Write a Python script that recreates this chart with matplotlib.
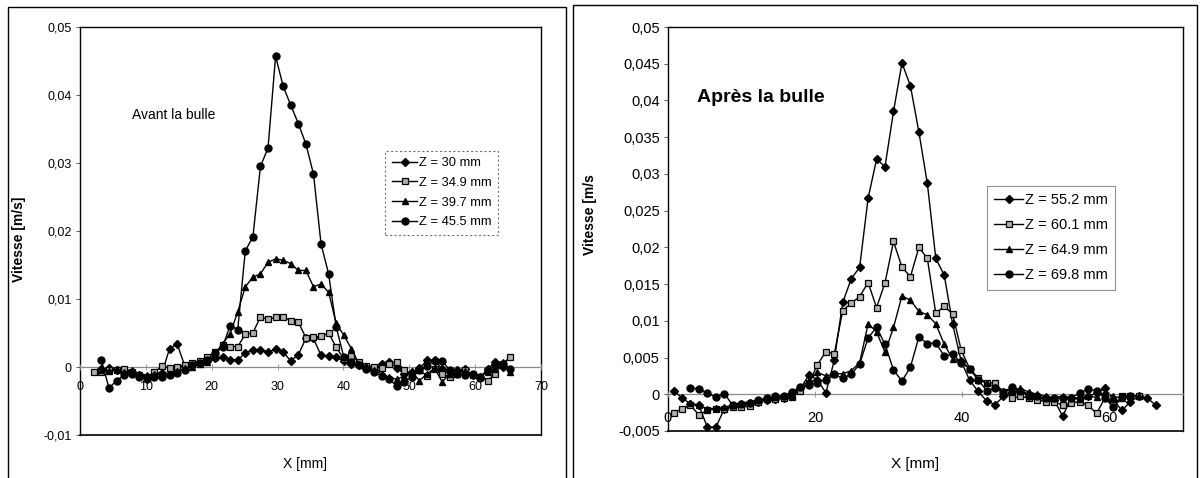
import matplotlib
matplotlib.use('Agg')
import matplotlib.pyplot as plt
from matplotlib.patches import Rectangle

plt.rcParams['font.family'] = ['Liberation Sans', 'DejaVu Sans']

# ---------------- data: left panel (avant la bulle) ----------------
x_left = [2.1, 3.25, 4.4, 5.55, 6.7, 7.85, 9.0, 10.15, 11.3, 12.45, 13.6, 14.75,
          15.9, 17.05, 18.2, 19.35, 20.5, 21.65, 22.8, 23.95, 25.1, 26.25, 27.4,
          28.55, 29.7, 30.85, 32.0, 33.15, 34.3, 35.45, 36.6, 37.75, 38.9, 40.05,
          41.2, 42.35, 43.5, 44.65, 45.8, 46.95, 48.1, 49.25, 50.4, 51.55, 52.7,
          53.85, 55.0, 56.15, 57.3, 58.45, 59.6, 60.75, 61.9, 63.05, 64.2, 65.35]
# values in 1e-3 m/s
left_z30 = [-0.3, -0.2, -0.5, -0.4, -0.8, -1.2, -1.5, -1.3, -0.9, 2.7, 3.4, 0.2, 0.4,
            0.7, 0.9, 1.3, 1.5, 1.1, 1.0, 2.1, 2.5, 2.5, 2.2, 2.6, 2.2, 0.9, 1.8, 4.2,
            4.2, 1.7, 1.6, 1.4, 0.9, 0.5, 0.3, -0.2, -0.5, 0.5, 0.8, -0.2, -1.0, -0.8,
            -0.2, 1.0, 1.0, -0.3, -0.8, -0.5, -0.3, -1.2, -1.5, -0.3, 0.8, 0.0]
left_z349 = [-0.8, -0.7, -0.5, -0.4, -0.3, -0.8, -1.2, -1.5, -0.8, 0.2, -0.2, 0.0, 0.3,
             0.6, 0.9, 1.5, 2.2, 3.2, 3.0, 3.0, 4.8, 5.0, 7.4, 7.0, 7.3, 7.4, 6.8, 6.6,
             4.3, 4.4, 4.5, 5.0, 2.9, 1.2, 1.6, 0.8, 0.2, 0.0, -0.2, 0.5, 0.8, -0.5,
             -1.0, -0.5, -1.3, -0.3, -1.0, -1.5, -1.0, -0.5, -1.2, -1.5, -2.0, -1.0,
             0.5, 1.5]
left_z397 = [-0.5, -0.6, -0.3, -0.8, -0.5, -1.0, -1.2, -1.0, -0.8, -1.0, -0.6, -0.2,
             0.0, 0.4, 0.8, 1.5, 3.4, 4.9, 8.1, 11.8, 13.2, 13.7, 15.4, 15.9, 15.7,
             15.2, 14.2, 14.2, 11.8, 12.2, 11.0, 6.4, 4.7, 2.7, 0.5, 0.1, -0.5, -1.0,
             -1.5, -1.8, -1.3, -0.8, -2.0, -1.0, -0.2, -2.2, -1.0, -0.8, -0.6, -1.0,
             -1.3, -0.8, -0.3, 0.8, -0.8]
left_z455 = [1.0, -3.1, -2.0, -1.2, -1.0, -1.4, -1.8, -1.5, -1.4, -1.2, -0.9, -0.4,
             0.3, 0.6, 1.0, 2.0, 3.0, 6.1, 5.5, 17.1, 19.1, 29.5, 32.2, 45.7, 41.3,
             38.5, 35.8, 32.8, 28.4, 18.1, 13.7, 5.9, 1.5, 0.8, 0.3, -0.3, -0.8, -1.3,
             -1.8, -2.8, -2.2, -1.5, -0.5, 0.2, 0.9, 0.9, -0.5, -1.0, -1.2, -1.0, -1.6,
             -0.5, 0.3, 0.5, -0.3]
left_series = [("Z = 30 mm", left_z30, 1), ("Z = 34.9 mm", left_z349, 0),
               ("Z = 39.7 mm", left_z397, 1), ("Z = 45.5 mm", left_z455, 1)]
left_yticks = [-0.01, 0.0, 0.01, 0.02, 0.03, 0.04, 0.05]
left_ylabels = ["-0,01", "0", "0,01", "0,02", "0,03", "0,04", "0,05"]
left_xticks = [0, 10, 20, 30, 40, 50, 60, 70]

# ---------------- data: right panel (après la bulle) ----------------
x_right = [0.75, 1.9, 3.05, 4.2, 5.35, 6.5, 7.65, 8.8, 9.95, 11.1, 12.25, 13.4,
           14.55, 15.7, 16.85, 18.0, 19.15, 20.3, 21.45, 22.6, 23.75, 24.9, 26.05,
           27.2, 28.35, 29.5, 30.65, 31.8, 32.95, 34.1, 35.25, 36.4, 37.55, 38.7,
           39.85, 41.0, 42.15, 43.3, 44.45, 45.6, 46.75, 47.9, 49.05, 50.2, 51.35,
           52.5, 53.65, 54.8, 55.95, 57.1, 58.25, 59.4, 60.55, 61.7, 62.85, 64.0,
           65.15, 66.3]
right_z552 = [0.5, -0.5, -1.3, -1.5, -4.5, -4.5, -2.0, -1.6, -1.5, -1.3, -1.0, -0.8,
              -0.6, -0.5, 0.2, 0.8, 2.6, 2.0, 0.2, 4.6, 12.5, 15.7, 17.3, 26.7, 32.0,
              31.0, 38.5, 45.1, 42.0, 35.7, 28.7, 18.5, 16.2, 9.5, 4.5, 1.9, 0.4,
              -0.9, -1.4, -0.3, 0.3, 0.5, 0.0, -0.5, -0.6, -0.8, -3.0, -0.5, -0.5,
              -0.3, 0.2, 0.8, -0.8, -2.2, -1.0, -0.3, -0.5, -1.5]
right_z601 = [-2.5, -2.0, -1.5, -2.8, -2.2, -2.0, -2.0, -1.8, -1.8, -1.6, -1.0, -0.7,
              -0.6, -0.5, -0.4, 0.5, 1.5, 4.0, 5.8, 5.5, 11.4, 12.4, 13.3, 15.2, 11.8,
              15.2, 20.8, 17.3, 16.0, 20.0, 18.5, 11.0, 12.0, 10.9, 6.0, 3.5, 2.2,
              1.6, 1.5, 0.3, -0.5, -0.3, -0.5, -0.8, -1.0, -1.0, -1.5, -1.2, -1.0,
              -1.5, -2.6, -0.5, -1.5, -0.3, -0.3, -0.3]
right_z649 = [-1.2, -1.5, -2.0, -1.9, -1.8, -1.4, -1.2, -1.0, -0.8, -0.6, -0.4, -0.3,
              -0.2, 1.0, 1.8, 3.0, 2.5, 2.8, 2.8, 3.2, 4.3, 9.6, 8.5, 5.7, 9.1, 13.4,
              12.8, 11.3, 10.8, 9.6, 6.8, 4.8, 4.5, 3.5, 2.0, 1.5, 1.0, 0.5, 0.5, 0.8,
              0.3, 0.0, -0.3, -0.5, -0.2, -0.5, -0.6, -0.3, -0.4, 0.3, -0.3, -0.5,
              -0.3, -0.2]
right_z698 = [0.9, 0.7, 0.2, -0.4, 0.1, -1.5, -1.3, -1.2, -0.8, -0.5, -0.3, -0.2, 0.3,
              1.0, 1.3, 1.6, 2.0, 2.7, 2.2, 2.7, 4.1, 7.7, 9.1, 6.8, 3.3, 1.8, 3.7,
              7.8, 6.9, 7.0, 5.2, 5.5, 4.3, 3.5, 2.0, 0.5, 0.8, 0.3, 1.0, 0.5, -0.3,
              -0.3, -0.5, -0.5, -0.5, -0.5, 0.2, 0.7, 0.5, -0.5, -1.8, -0.4, -0.2]
right_series = [("Z = 55.2 mm", right_z552, 0), ("Z = 60.1 mm", right_z601, 0),
                ("Z = 64.9 mm", right_z649, 2), ("Z = 69.8 mm", right_z698, 2)]
right_yticks = [-0.005, 0.0, 0.005, 0.01, 0.015, 0.02, 0.025, 0.03, 0.035, 0.04,
                0.045, 0.05]
right_ylabels = ["-0,005", "0", "0,005", "0,01", "0,015", "0,02", "0,025", "0,03",
                 "0,035", "0,04", "0,045", "0,05"]
right_xticks = [0, 20, 40, 60]

# ---------------- styles ----------------
styles = [dict(marker='D', ms=3.6, mfc='black', mec='black'),
          dict(marker='s', ms=4.6, mfc='#b0b0b0', mec='black', mew=0.9),
          dict(marker='^', ms=5.0, mfc='black', mec='black'),
          dict(marker='o', ms=5.0, mfc='black', mec='black')]

W, H = 1201, 478
fig = plt.figure(figsize=(W / 100, H / 100), dpi=100)


def fax(x0, y0, x1, y1):
    return fig.add_axes([x0 / W, 1 - y1 / H, (x1 - x0) / W, (y1 - y0) / H])


def setup(ax, xlim, ylim, xticks, yticks, ylabels, fs, xpad):
    ax.set_xlim(*xlim)
    ax.set_ylim(*ylim)
    ax.set_yticks(yticks)
    ax.set_yticklabels(ylabels)
    ax.set_xticks(xticks)
    ax.set_xticklabels([str(t) for t in xticks])
    ax.spines['bottom'].set_position(('data', 0))
    ax.spines['bottom'].set_color('#8a8a8a')
    ax.spines['bottom'].set_linewidth(0.9)
    for s in ('left', 'top', 'right'):
        ax.spines[s].set_color('black')
        ax.spines[s].set_linewidth(1.0)
    ax.plot([0, 1], [0, 0], transform=ax.transAxes, color='black', lw=1.2,
            clip_on=False)
    ax.tick_params(axis='y', direction='out', length=3, width=0.6,
                   labelsize=fs, pad=3, color='#444444')
    ax.tick_params(axis='x', direction='inout', length=4, width=0.6,
                   labelsize=fs, pad=xpad, color='#8a8a8a')
    ax.xaxis.set_zorder(4)


def draw(ax, xs, series):
    handles = []
    for (lab, vals, start), st in zip(series, styles):
        xx = xs[start:start + len(vals)]
        yy = [v / 1000.0 for v in vals]
        h, = ax.plot(xx, yy, color='black', lw=1.0, label=lab, clip_on=False,
                     zorder=3, **st)
        handles.append(h)
    return handles


# left panel
axL = fax(80, 27, 541, 435)
setup(axL, (0, 70), (-0.01, 0.05), left_xticks, left_yticks, left_ylabels, 9, 8)
hL = draw(axL, x_left, left_series)
axL.set_ylabel("Vitesse [m/s]", fontsize=10, fontweight='bold')
axL.yaxis.set_label_coords(-0.118, 0.48)
axL.set_xlabel("X [mm]", fontsize=10)
axL.xaxis.set_label_coords(0.487, -0.055)
axL.text(7.9, 0.037, "Avant la bulle", fontsize=10, va='center', ha='left')
legL = axL.legend(handles=hL, loc='upper left', bbox_to_anchor=(0.662, 0.697),
                  borderaxespad=0, fontsize=9.3, handlelength=2.0,
                  handletextpad=0.1, labelspacing=0.6, borderpad=0.5,
                  frameon=True, fancybox=False)
legL.get_frame().set_edgecolor('#555555')
legL.get_frame().set_linewidth(0.8)
legL.get_frame().set_linestyle((0, (2, 2)))

# right panel
axR = fax(668, 27, 1183, 431)
setup(axR, (0, 70), (-0.005, 0.05), right_xticks, right_yticks, right_ylabels,
      10.5, 10)
hR = draw(axR, x_right, right_series)
axR.set_ylabel("Vitesse [m/s", fontsize=10, fontweight='bold')
axR.yaxis.set_label_coords(-0.137, 0.535)
axR.set_xlabel("X [mm]", fontsize=11)
axR.xaxis.set_label_coords(0.48, -0.065)
axR.text(4.0, 0.0404, "Après la bulle", fontsize=14, va='center', ha='left',
         fontweight='semibold')
legR = axR.legend(handles=hR, loc='upper left', bbox_to_anchor=(0.619, 0.606),
                  borderaxespad=0, fontsize=10.5, handlelength=2.0,
                  handletextpad=0.1, labelspacing=0.75, borderpad=0.5,
                  frameon=True, fancybox=False)
legR.get_frame().set_edgecolor('#777777')
legR.get_frame().set_linewidth(0.8)

# outer chart frames
fig.add_artist(Rectangle((8 / W, -0.01), (566 - 8) / W, 1 - 7 / H + 0.01,
                         transform=fig.transFigure, fill=False, ec='black', lw=1.0))
fig.add_artist(Rectangle((573 / W, -0.01), (1197 - 573) / W, 1 - 5 / H + 0.01,
                         transform=fig.transFigure, fill=False, ec='black', lw=1.0))

fig.savefig("out.png", dpi=100, facecolor='white')
